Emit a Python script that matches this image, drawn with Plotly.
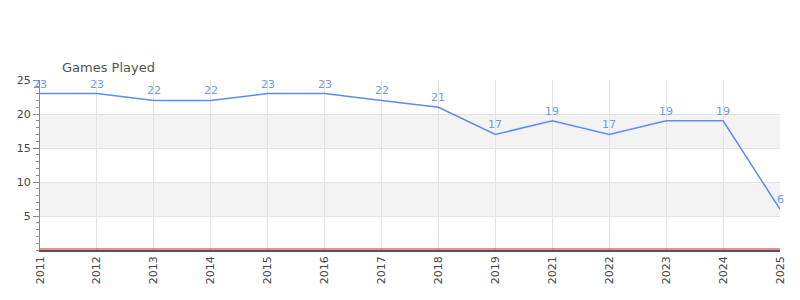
import plotly.graph_objects as go

years = ["2011","2012","2013","2014","2015","2016","2017","2018","2019","2021","2022","2023","2024","2025"]
games = [23,23,22,22,23,23,22,21,17,19,17,19,19,6]
title_text = "Games Played"

fig = go.Figure()
fig.add_trace(go.Scatter(
    x=years, y=games, mode="lines",
    line=dict(color="#5b8def", width=1.5), hoverinfo="skip"))

for i, yv in enumerate(games):
    fig.add_annotation(x=i, y=yv, text=str(yv), showarrow=False, yanchor="bottom",
                       yshift=1, font=dict(color="#6f9aea", size=11, family="DejaVu Sans"))

for lo, hi in [(5, 10), (15, 20)]:
    fig.add_shape(type="rect", xref="paper", x0=0, x1=1, yref="y", y0=lo, y1=hi,
                  fillcolor="#f3f3f3", line_width=0, layer="below")
fig.add_shape(type="line", xref="paper", x0=0, x1=1, yref="y", ysizemode="pixel",
              yanchor=0, y0=1, y1=1, line=dict(color="#d62020", width=1.2), layer="above")

fig.add_annotation(text=title_text, xref="paper", yref="paper", x=0.027, y=1,
                   xanchor="left", yanchor="bottom", yshift=3, showarrow=False,
                   font=dict(size=13, color="#555", family="DejaVu Sans"))

fig.update_layout(
    width=800, height=300, margin=dict(l=40, r=20, t=80, b=50),
    plot_bgcolor="white", paper_bgcolor="white", showlegend=False,
    font=dict(family="DejaVu Sans", size=11, color="#444"),
    xaxis=dict(type="category", range=[0, 13], showgrid=True, gridcolor="#e3e3e3",
               tickangle=-90, showline=True, linecolor="#555", linewidth=1.5,
               ticks="", tickfont=dict(size=11, color="#444")),
    yaxis=dict(range=[0, 25], tickvals=[5, 10, 15, 20, 25], showgrid=True,
               gridcolor="#e3e3e3", zeroline=False, showline=True, linecolor="#888",
               ticks="outside", ticklen=6, tickcolor="#888",
               minor=dict(dtick=1, ticks="outside", ticklen=3, tickcolor="#888", showgrid=False),
               tickfont=dict(size=11, color="#444")),
)
fig.write_html("out.html")
